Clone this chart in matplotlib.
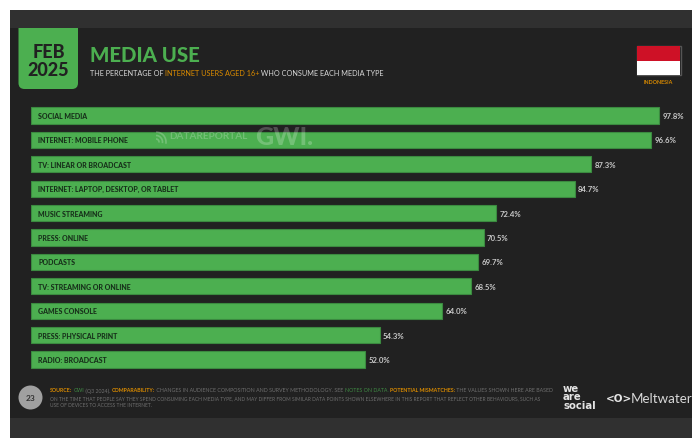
import matplotlib
matplotlib.use('Agg')
import matplotlib.pyplot as plt
import matplotlib.patches as patches

categories = ['SOCIAL MEDIA', 'INTERNET: MOBILE PHONE', 'TV: LINEAR OR BROADCAST',
              'INTERNET: LAPTOP, DESKTOP, OR TABLET', 'MUSIC STREAMING', 'PRESS: ONLINE',
              'PODCASTS', 'TV: STREAMING OR ONLINE', 'GAMES CONSOLE',
              'PRESS: PHYSICAL PRINT', 'RADIO: BROADCAST']
values = [97.8, 96.6, 87.3, 84.7, 72.4, 70.5, 69.7, 68.5, 64.0, 54.3, 52.0]

GREEN = '#4CAF50'
EDGE = '#3B8A40'
ORANGE = '#D98A00'
DARK = '#212121'
BAND = '#303030'
GREY = '#6F6F6F'
FONT = 'Lato'

W, H = 692, 439
fig = plt.figure(figsize=(W / 100, H / 100), dpi=100, facecolor='white')

# fondo en coordenadas de pixel
bg = fig.add_axes([0, 0, 1, 1])
bg.set_xlim(0, W)
bg.set_ylim(H, 0)
bg.axis('off')

bg.add_patch(patches.Rectangle((9.5, 11), W - 9.5, H - 11, fc=DARK, ec='none', zorder=1))
bg.add_patch(patches.FancyBboxPatch((18.5, 20), 59.5, 70, boxstyle='round,pad=0,rounding_size=6',
                                    fc=GREEN, ec='none', zorder=2))
bg.add_patch(patches.Rectangle((9.5, 11), W - 9.5, 18, fc=BAND, ec='none', zorder=3))
bg.add_patch(patches.Rectangle((9.5, 419), W - 9.5, 20, fc=BAND, ec='none', zorder=3))

bg.text(48.5, 52.5, 'FEB', color=DARK, fontsize=13, fontweight='black', family=FONT,
        ha='center', va='center', zorder=4)
bg.text(48.5, 70, '2025', color=DARK, fontsize=13, fontweight='black', family=FONT,
        ha='center', va='center', zorder=4)
bg.text(90, 55, 'MEDIA USE', color=GREEN, fontsize=14.7, fontweight='black', family=FONT,
        ha='left', va='center', zorder=4)


def runs(x, y, parts, size):
    # escribe trozos de texto seguidos, cada uno con su color
    r = fig.canvas.get_renderer()
    for s, color, weight in parts:
        t = bg.text(x, y, s, color=color, fontsize=size, fontweight=weight, family=FONT,
                    ha='left', va='center', zorder=4)
        x += t.get_window_extent(r).width


runs(89.5, 73, [('THE PERCENTAGE OF ', '#D8D8D8', 'normal'),
                ('INTERNET USERS AGED 16+', ORANGE, 'normal'),
                (' WHO CONSUME EACH MEDIA TYPE', '#D8D8D8', 'normal')], 5.2)

# bandera
bg.add_patch(patches.Rectangle((637, 46.5), 43.5, 29.5, fc='none', ec='#555555', lw=1, zorder=4))
bg.add_patch(patches.Rectangle((637, 47), 43, 14.5, fc='#CE1126', ec='none', zorder=4))
bg.add_patch(patches.Rectangle((637, 61.5), 43, 14.5, fc='white', ec='none', zorder=4))
bg.text(658.5, 82.5, 'INDONESIA', color=ORANGE, fontsize=3.9, fontweight='bold', family=FONT,
        ha='center', va='center', zorder=4)

# pie de pagina
bg.add_patch(patches.Circle((30.5, 398.5), 12, fc='#A0A0A0', ec='none', zorder=4))
bg.text(30.5, 399, '23', color='#333333', fontsize=6, fontweight='bold', family=FONT,
        ha='center', va='center', zorder=5)
runs(50, 391, [('SOURCE:', ORANGE, 'bold'), (' ', GREY, 'normal'), ('GWI', '#3F8A44', 'normal'),
               (' (Q3 2024). ', GREY, 'normal'), ('COMPARABILITY:', ORANGE, 'bold'),
               (' CHANGES IN AUDIENCE COMPOSITION AND SURVEY METHODOLOGY. SEE ', GREY, 'normal'),
               ('NOTES ON DATA.', '#3F8A44', 'normal'), (' ', GREY, 'normal'),
               ('POTENTIAL MISMATCHES:', ORANGE, 'bold'),
               (' THE VALUES SHOWN HERE ARE BASED', GREY, 'normal')], 3.8)
runs(50, 398.5, [('ON THE TIME THAT PEOPLE SAY THEY SPEND CONSUMING EACH MEDIA TYPE, AND MAY DIFFER FROM '
                  'SIMILAR DATA POINTS SHOWN ELSEWHERE IN THIS REPORT THAT REFLECT OTHER BEHAVIOURS, SUCH AS',
                  GREY, 'normal')], 3.55)
runs(50, 405.5, [('USE OF DEVICES TO ACCESS THE INTERNET.', GREY, 'normal')], 3.55)

# logos
for y, s in zip([389, 397.5, 406], ['we', 'are', 'social']):
    bg.text(563, y, s, color='#E4E4E4', fontsize=7.3, fontweight='bold', family='DejaVu Sans',
            ha='left', va='center', zorder=4)
bg.text(606, 399, '<O>', color='#E4E4E4', fontsize=7.5, fontweight='bold', family='DejaVu Sans',
        ha='left', va='center', zorder=4)
bg.text(631, 399, 'Meltwater', color='#D8D8D8', fontsize=9.6, family=FONT,
        ha='left', va='center', zorder=4)

# barras: 6.416 px por punto porcentual, 24.4 px entre filas
ax = fig.add_axes([31.2 / W, 1 - 372.7 / H, 641.6 / W, 268.4 / H])
ax.patch.set_alpha(0)
ax.set_xlim(0, 100)
ax.set_ylim(len(values) - 0.5, -0.5)
ax.axis('off')

rows = range(len(values))
ax.barh(rows, values, height=0.67, color=GREEN, edgecolor=EDGE, linewidth=0.8)
for i, (cat, val) in enumerate(zip(categories, values)):
    ax.text(1.1, i, cat, color='#17301A', fontsize=5.0, fontweight='black', family=FONT,
            ha='left', va='center')
    ax.text(val + 0.55, i, f'{val:.1f}%', color='#C8C8C8', fontsize=5.6, fontweight='bold',
            family=FONT, ha='left', va='center')

# marca de agua
mark = fig.add_axes([0, 0, 1, 1])
mark.set_xlim(0, W)
mark.set_ylim(H, 0)
mark.axis('off')
mark.patch.set_alpha(0)
for r in [3, 6.5, 10]:
    mark.add_patch(patches.Arc((156, 143), r * 2, r * 2, theta1=-90, theta2=10, color='white',
                               alpha=0.22, lw=1.2))
mark.text(169, 137, 'DATAREPORTAL', color='white', alpha=0.22, fontsize=7.2, fontweight='bold',
          family=FONT, ha='left', va='center')
mark.text(255, 138, 'GWI.', color='white', alpha=0.22, fontsize=18, fontweight='black',
          family=FONT, ha='left', va='center')

plt.savefig('out.png', dpi=100, facecolor='white')
plt.close(fig)
